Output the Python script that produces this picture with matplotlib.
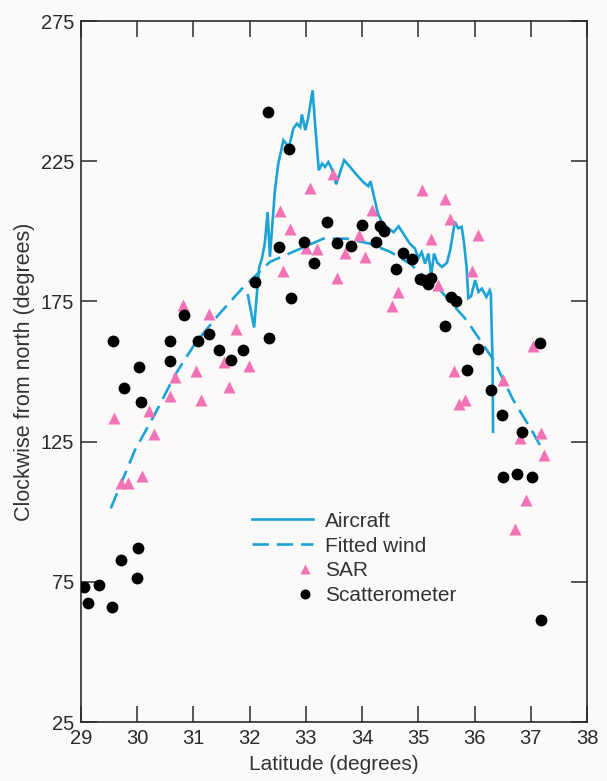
import matplotlib
matplotlib.use("Agg")
import numpy as np
import matplotlib.pyplot as plt
from matplotlib.legend_handler import HandlerLine2D

plt.rcParams['font.family'] = ['Liberation Sans', 'DejaVu Sans']

# ---------------- data ----------------
aircraft_lat = [31.97, 32.01, 32.08, 32.13, 32.17, 32.22, 32.27, 32.32, 32.36, 32.41,
                32.45, 32.51, 32.60, 32.70, 32.78, 32.84, 32.90, 32.93, 32.99, 33.04,
                33.12, 33.17, 33.23, 33.29, 33.34, 33.40, 33.46, 33.54, 33.61, 33.68,
                33.79, 33.91, 34.02, 34.11, 34.15, 34.20, 34.28, 34.35, 34.44, 34.56,
                34.65, 34.74, 34.85, 34.94, 35.00, 35.06, 35.12, 35.18, 35.23, 35.28,
                35.34, 35.42, 35.51, 35.57, 35.65, 35.71, 35.77, 35.81, 35.86, 35.89,
                35.94, 36.01, 36.07, 36.13, 36.21, 36.27, 36.29, 36.32, 36.33]
aircraft_dir = [177.2, 172.9, 165.7, 177.9, 187.2, 190.4, 195.8, 206.9, 190.9, 204.0,
                214.7, 224.2, 232.5, 230.1, 236.8, 238.4, 237.2, 241.7, 236.1, 240.3,
                250.3, 236.8, 221.8, 224.2, 223.0, 224.7, 222.4, 216.8, 221.1, 225.4,
                222.9, 220.0, 217.6, 216.1, 217.9, 213.5, 206.5, 203.4, 201.5, 199.7,
                201.8, 199.0, 195.6, 193.9, 190.4, 192.6, 188.5, 192.1, 184.4, 192.1,
                188.8, 187.3, 188.8, 193.6, 203.4, 201.1, 201.6, 196.5, 186.9, 176.2,
                176.9, 182.6, 178.4, 179.6, 176.6, 179.0, 177.8, 154.1, 128.5]

fitted_lat = [29.53, 29.96, 30.32, 30.67, 31.03, 31.44, 31.86, 32.36, 32.84, 33.31,
              33.73, 34.14, 34.50, 34.85, 35.39, 35.86, 36.34, 36.69, 37.05, 37.26]
fitted_dir = [101.2, 122.0, 135.0, 148.7, 160.0, 170.1, 179.5, 189.1, 193.3, 197.4,
              197.4, 195.6, 192.7, 188.5, 179.0, 168.3, 154.1, 139.8, 127.9, 120.2]

sar_lat = [29.59, 29.72, 29.83, 30.08, 30.21, 30.30, 30.59, 30.67, 30.81, 31.05,
           31.13, 31.28, 31.54, 31.63, 31.76, 31.99, 32.54, 32.60, 32.72, 33.00,
           33.08, 33.20, 33.49, 33.55, 33.69, 33.95, 34.06, 34.17, 34.53, 34.64,
           35.06, 35.22, 35.35, 35.47, 35.57, 35.64, 35.72, 35.83, 35.95, 36.06,
           36.50, 36.72, 36.80, 36.92, 37.04, 37.18, 37.24]
sar_dir = [133.6, 110.3, 110.1, 112.9, 135.8, 127.9, 141.2, 147.9, 173.8, 150.2,
           139.7, 170.7, 153.4, 144.5, 165.2, 151.9, 207.3, 185.9, 200.9, 193.9,
           215.5, 193.6, 220.6, 183.5, 192.3, 198.8, 190.9, 207.7, 173.4, 178.2,
           214.8, 197.2, 181.0, 211.5, 204.4, 150.2, 138.6, 140.0, 185.9, 198.6,
           146.9, 93.7, 126.4, 104.2, 159.1, 128.0, 120.1]

scat_lat = [29.05, 29.12, 29.32, 29.55, 29.57, 29.71, 29.77, 29.99, 30.01, 30.03,
            30.07, 30.58, 30.58, 30.83, 31.08, 31.28, 31.46, 31.67, 31.88, 32.10,
            32.34, 32.32, 32.70, 32.53, 32.74, 32.97, 33.14, 33.38, 33.56, 33.80,
            33.99, 34.24, 34.31, 34.39, 34.61, 34.73, 34.88, 35.03, 35.11, 35.18,
            35.22, 35.47, 35.58, 35.67, 35.87, 36.06, 36.29, 36.48, 36.51, 36.75,
            36.85, 37.02, 37.17, 37.19]
scat_dir = [73.1, 67.4, 73.8, 66.0, 160.8, 82.8, 144.1, 76.3, 87.0, 151.6,
            139.1, 160.8, 153.7, 170.1, 160.8, 163.3, 157.6, 154.1, 157.6, 181.9,
            161.9, 242.4, 229.5, 194.4, 176.2, 196.2, 188.7, 203.4, 195.9, 194.7,
            202.2, 196.1, 201.8, 200.2, 186.7, 192.3, 190.1, 182.9, 182.5, 181.1,
            183.5, 166.2, 176.6, 175.1, 150.5, 158.2, 143.3, 134.6, 112.4, 113.4,
            128.5, 112.3, 160.1, 61.3]

x_ticks = [29, 30, 31, 32, 33, 34, 35, 36, 37, 38]
y_ticks = [25, 75, 125, 175, 225, 275]

# ---------------- style ----------------
BLUE = '#1ba3d6'
PINK = '#f272b6'
BG = '#fcfaf8'
TXT = '#2a2a2a'


class RightMarkerHandler(HandlerLine2D):
    """Place single legend markers near the right end of the handle."""
    def get_xdata(self, legend, xdescent, ydescent, width, height, fontsize):
        x = -xdescent + width * 0.87
        return np.array([x, x]), np.array([x])


fig = plt.figure(figsize=(6.07, 7.81), dpi=100, facecolor=BG)
ax = fig.add_axes([0.1334, 0.0755, 0.8336, 0.8975], facecolor=BG)

ax.plot(aircraft_lat, aircraft_dir, color=BLUE, lw=1.9, solid_joinstyle='miter',
        label='Aircraft', zorder=2)
ax.plot(fitted_lat, fitted_dir, color=BLUE, lw=1.9, dashes=(6.2, 3.0),
        label='Fitted wind', zorder=2)
sar_line, = ax.plot(sar_lat, sar_dir, linestyle='none', marker='^', ms=9, color=PINK,
                    mec='none', label='SAR', zorder=3)
scat_line, = ax.plot(scat_lat, scat_dir, linestyle='none', marker='o', ms=8.5,
                     color='black', mec='none', label='Scatterometer', zorder=4)

ax.set_xlim(29, 38)
ax.set_ylim(25, 275)
ax.set_xticks(x_ticks)
ax.set_yticks(y_ticks)
ax.tick_params(direction='in', length=11.5, width=1.1, labelsize=14.5,
               top=True, right=True, pad=5, colors=TXT)
for s in ax.spines.values():
    s.set_linewidth(1.2)
    s.set_color(TXT)

ax.set_xlabel('Latitude (degrees)', fontsize=15, color='#333333', labelpad=5)
ax.set_ylabel('Clockwise from north (degrees)', fontsize=15.5, color='#333333',
              labelpad=4)

leg = ax.legend(loc='upper left', bbox_to_anchor=(0.338, 0.300), frameon=False,
                fontsize=15, handlelength=2.93, handletextpad=0.58,
                labelspacing=0.28, borderpad=0, borderaxespad=0,
                markerscale=0.85,
                handler_map={sar_line: RightMarkerHandler(numpoints=1),
                             scat_line: RightMarkerHandler(numpoints=1)})
for t in leg.get_texts():
    t.set_color('#333333')

fig.savefig('out.png', dpi=100, facecolor=BG)
